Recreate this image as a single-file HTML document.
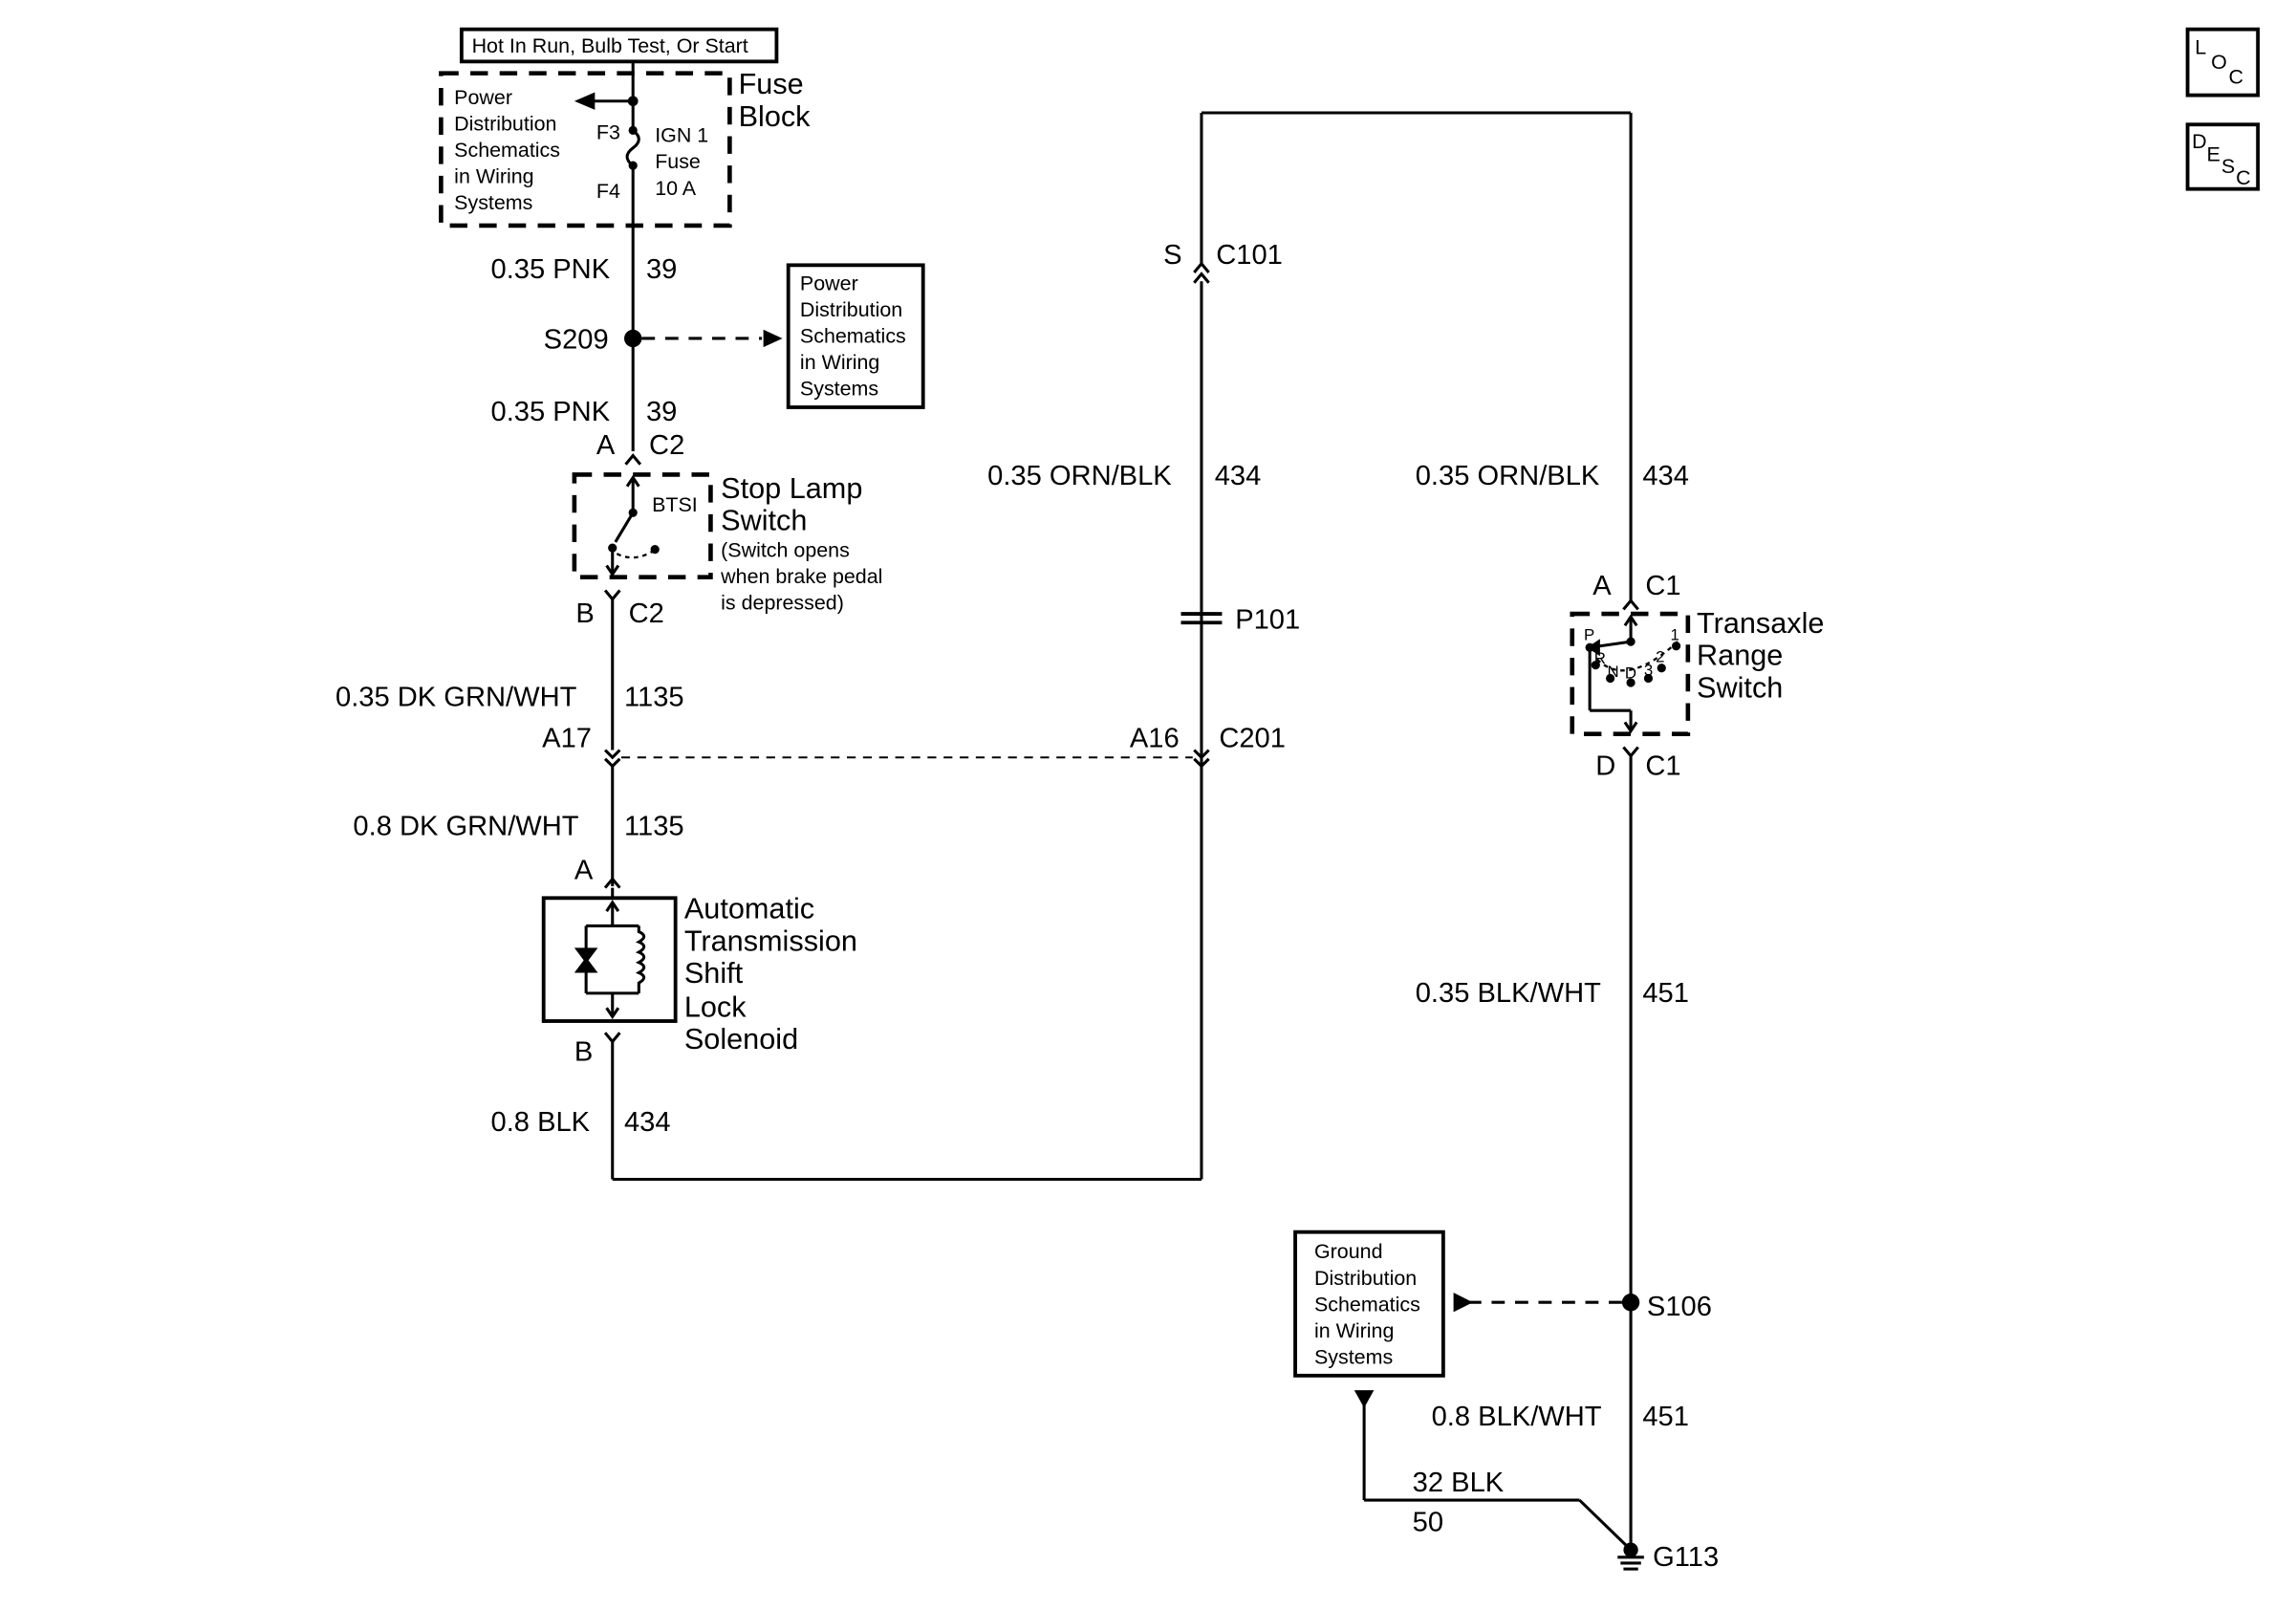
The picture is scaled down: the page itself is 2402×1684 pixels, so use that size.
<!DOCTYPE html>
<html><head><meta charset="utf-8"><style>
html,body{margin:0;padding:0;background:#fff;}
svg{display:block;}
text{font-family:"Liberation Sans",Arial,sans-serif;fill:#000;}
.w{font-size:19px;}
.s{font-size:14px;}
.m{font-size:20px;}
</style></head><body>
<svg width="2402" height="1684" viewBox="0 0 1567 1099" preserveAspectRatio="none" xmlns="http://www.w3.org/2000/svg">
<g stroke="#000" fill="none" stroke-width="2">
<rect x="315" y="20" width="215" height="22" stroke-width="2.5"/>
<rect x="301" y="50" width="197" height="104" stroke-width="3" stroke-dasharray="12,8"/>
<line x1="432" y1="42" x2="432" y2="89"/>
<path d="M432 89 q8 6 0 12 q-8 6 0 12"/>
<line x1="432" y1="113" x2="432" y2="308"/>
<line x1="432" y1="69" x2="405" y2="69"/>
<line x1="438" y1="231" x2="520" y2="231" stroke-dasharray="9,7"/>
<rect x="538" y="181" width="92" height="97" stroke-width="2.5"/>
<path d="M427 317 l5 -6 l5 6"/>
<rect x="392" y="324" width="93" height="70" stroke-width="3" stroke-dasharray="12,8"/>
<line x1="432" y1="326" x2="432" y2="350"/>
<path d="M428 332 l4 -6 l4 6"/>
<line x1="432" y1="350" x2="420" y2="370"/>
<line x1="418" y1="374" x2="418" y2="392"/>
<path d="M414 386 l4 6 l4 -6"/>
<path d="M421 378 q12 6 25 -2" stroke-dasharray="3,3" stroke-width="1.5"/>
<path d="M413 403 l5 6 l5 -6"/>
<line x1="418" y1="408" x2="418" y2="512"/>
<path d="M413 512 l5 5 l5 -5 M413 518 l5 5 l5 -5"/>
<line x1="418" y1="522" x2="418" y2="605"/>
<line x1="424" y1="517" x2="814" y2="517" stroke-dasharray="6,5" stroke-width="1.3"/>
<path d="M413 606 l5 -6 l5 6"/>
<line x1="418" y1="606" x2="418" y2="613"/>
<rect x="371" y="613" width="90" height="84" stroke-width="2.5"/>
<line x1="418" y1="616" x2="418" y2="632"/>
<path d="M414 622 l4 -6 l4 6"/>
<line x1="400" y1="632" x2="436" y2="632"/>
<line x1="400" y1="632" x2="400" y2="678"/>
<line x1="400" y1="678" x2="436" y2="678"/>
<path d="M436 632 v4 q7 3 0 7 q7 3 0 7 q7 3 0 7 q7 3 0 7 q7 3 0 7 v7"/>
<path d="M394 648 h12 l-6 8 z M394 663 h12 l-6 -8 z" fill="#000"/>
<line x1="418" y1="678" x2="418" y2="694"/>
<path d="M414 688 l4 6 l4 -6"/>
<path d="M413 705 l5 6 l5 -6"/>
<line x1="418" y1="710" x2="418" y2="805"/>
<line x1="418" y1="805" x2="820" y2="805"/>
<line x1="820" y1="805" x2="820" y2="192"/>
<path d="M815 186 l5 -6 l5 6 M815 193 l5 -6 l5 6"/>
<line x1="820" y1="180" x2="820" y2="77"/>
<line x1="820" y1="77" x2="1113" y2="77"/>
<line x1="1113" y1="77" x2="1113" y2="410"/>
<path d="M1108 416 l5 -6 l5 6"/>
<line x1="806" y1="419" x2="834" y2="419" stroke-width="2.5"/>
<line x1="806" y1="425" x2="834" y2="425" stroke-width="2.5"/>
<path d="M815 512 l5 5 l5 -5 M815 518 l5 5 l5 -5"/>
<rect x="1073" y="419" width="79" height="82" stroke-width="3" stroke-dasharray="12,8"/>
<line x1="1113" y1="421" x2="1113" y2="438"/>
<path d="M1109 427 l4 -6 l4 6"/>
<line x1="1113" y1="438" x2="1085" y2="442"/>
<path d="M1085 442 l6 -4 v8 z" fill="#000"/>
<line x1="1085" y1="442" x2="1085" y2="485"/>
<line x1="1085" y1="485" x2="1113" y2="485"/>
<line x1="1113" y1="485" x2="1113" y2="499"/>
<path d="M1109 493 l4 6 l4 -6"/>
<path d="M1090 450 q20 20 55 -12" stroke-dasharray="3,3" stroke-width="1.5"/>
<path d="M1108 522 l5 -6 l5 6" transform="rotate(180 1113 516)"/>
<line x1="1113" y1="516" x2="1113" y2="1055"/>
<line x1="1107" y1="889" x2="1000" y2="889" stroke-dasharray="9,7"/>
<path d="M993 884 l10 5 l-10 5 z" fill="#000"/>
<rect x="884" y="841" width="101" height="98" stroke-width="2.5"/>
<path d="M926 950 h10 l-5 9 z" fill="#000"/>
<line x1="931" y1="955" x2="931" y2="1024"/>
<line x1="931" y1="1024" x2="1078" y2="1024"/>
<line x1="1078" y1="1024" x2="1111" y2="1056"/>
<line x1="1104" y1="1063" x2="1122" y2="1063"/>
<line x1="1106" y1="1067" x2="1120" y2="1067"/>
<line x1="1108" y1="1071" x2="1118" y2="1071"/>
<rect x="1493" y="20" width="48" height="45" stroke-width="2.5"/>
<rect x="1493" y="85" width="48" height="44" stroke-width="2.5"/>
</g>
<g fill="#000">
<circle cx="432" cy="69" r="3.5"/><path d="M392 69 l14 -6 v12 z"/>
<circle cx="432" cy="89" r="3"/><circle cx="432" cy="113" r="3"/>
<circle cx="432" cy="231" r="6"/>
<path d="M534 231 l-13 -6 v12 z"/>
<circle cx="432" cy="350" r="3"/><circle cx="418" cy="374" r="3"/><circle cx="447" cy="375" r="3"/>
<circle cx="1113" cy="438" r="3"/><circle cx="1085" cy="442" r="3"/><circle cx="1089" cy="454" r="3"/><circle cx="1099" cy="463" r="3"/><circle cx="1113" cy="466" r="3"/><circle cx="1125" cy="463" r="3"/><circle cx="1134" cy="456" r="3"/><circle cx="1144" cy="441" r="3"/>
<circle cx="1113" cy="889" r="6"/>
<circle cx="1113" cy="1058" r="5"/>
</g>
<text class="s" x="322" y="36">Hot In Run, Bulb Test, Or Start</text>
<text class="s" x="310" y="71">Power</text>
<text class="s" x="310" y="89">Distribution</text>
<text class="s" x="310" y="107">Schematics</text>
<text class="s" x="310" y="125">in Wiring</text>
<text class="s" x="310" y="143">Systems</text>
<text class="s" x="407" y="95">F3</text>
<text class="s" x="407" y="135">F4</text>
<text class="s" x="447" y="97">IGN 1</text>
<text class="s" x="447" y="115">Fuse</text>
<text class="s" x="447" y="133">10 A</text>
<text class="m" x="504" y="64">Fuse</text>
<text class="m" x="504" y="86">Block</text>
<text class="w" x="335" y="190">0.35 PNK</text>
<text class="w" x="441" y="190">39</text>
<text class="w" x="371" y="238">S209</text>
<text class="s" x="546" y="198">Power</text>
<text class="s" x="546" y="216">Distribution</text>
<text class="s" x="546" y="234">Schematics</text>
<text class="s" x="546" y="252">in Wiring</text>
<text class="s" x="546" y="270">Systems</text>
<text class="w" x="335" y="287">0.35 PNK</text><text class="w" x="441" y="287">39</text>
<text class="w" x="407" y="310">A</text><text class="w" x="443" y="310">C2</text>
<text class="s" x="445" y="349">BTSI</text>
<text class="m" x="492" y="340">Stop Lamp</text>
<text class="m" x="492" y="362">Switch</text>
<text class="s" x="492" y="380">(Switch opens</text>
<text class="s" x="492" y="398">when brake pedal</text>
<text class="s" x="492" y="416">is depressed)</text>
<text class="w" x="393" y="425">B</text><text class="w" x="429" y="425">C2</text>
<text class="w" x="229" y="482">0.35 DK GRN/WHT</text><text class="w" x="426" y="482">1135</text>
<text class="w" x="370" y="510">A17</text>
<text class="w" x="241" y="570">0.8 DK GRN/WHT</text><text class="w" x="426" y="570">1135</text>
<text class="w" x="392" y="600">A</text>
<text class="m" x="467" y="627">Automatic</text>
<text class="m" x="467" y="649">Transmission</text>
<text class="m" x="467" y="671">Shift</text>
<text class="m" x="467" y="694">Lock</text>
<text class="m" x="467" y="716">Solenoid</text>
<text class="w" x="392" y="724">B</text>
<text class="w" x="335" y="772">0.8 BLK</text><text class="w" x="426" y="772">434</text>
<text class="w" x="794" y="180">S</text><text class="w" x="830" y="180">C101</text>
<text class="w" x="674" y="331">0.35 ORN/BLK</text><text class="w" x="829" y="331">434</text>
<text class="w" x="843" y="429">P101</text>
<text class="w" x="771" y="510">A16</text><text class="w" x="832" y="510">C201</text>
<text class="w" x="966" y="331">0.35 ORN/BLK</text><text class="w" x="1121" y="331">434</text>
<text class="w" x="1087" y="406">A</text><text class="w" x="1123" y="406">C1</text>
<text class="m" x="1158" y="432">Transaxle</text>
<text class="m" x="1158" y="454">Range</text>
<text class="m" x="1158" y="476">Switch</text>
<text x="1081" y="437" style="font-size:11px">P</text>
<text x="1088" y="453" style="font-size:11px">R</text>
<text x="1097" y="462" style="font-size:11px">N</text>
<text x="1109" y="463" style="font-size:11px">D</text>
<text x="1122" y="461" style="font-size:11px">3</text>
<text x="1130" y="452" style="font-size:11px">2</text>
<text x="1140" y="437" style="font-size:11px">1</text>
<text class="w" x="1089" y="529">D</text><text class="w" x="1123" y="529">C1</text>
<text class="w" x="966" y="684">0.35 BLK/WHT</text><text class="w" x="1121" y="684">451</text>
<text class="s" x="897" y="859">Ground</text>
<text class="s" x="897" y="877">Distribution</text>
<text class="s" x="897" y="895">Schematics</text>
<text class="s" x="897" y="913">in Wiring</text>
<text class="s" x="897" y="931">Systems</text>
<text class="w" x="1124" y="898">S106</text>
<text class="w" x="977" y="973">0.8 BLK/WHT</text><text class="w" x="1121" y="973">451</text>
<text class="w" x="964" y="1018">32 BLK</text>
<text class="w" x="964" y="1045">50</text>
<text class="w" x="1128" y="1069">G113</text>
<text x="1498" y="37" style="font-size:14px">L</text><text x="1509" y="47" style="font-size:14px">O</text><text x="1521" y="57" style="font-size:14px">C</text>
<text x="1496" y="101" style="font-size:14px">D</text><text x="1506" y="110" style="font-size:14px">E</text><text x="1516" y="118" style="font-size:14px">S</text><text x="1526" y="126" style="font-size:14px">C</text>
</svg>
</body></html>
